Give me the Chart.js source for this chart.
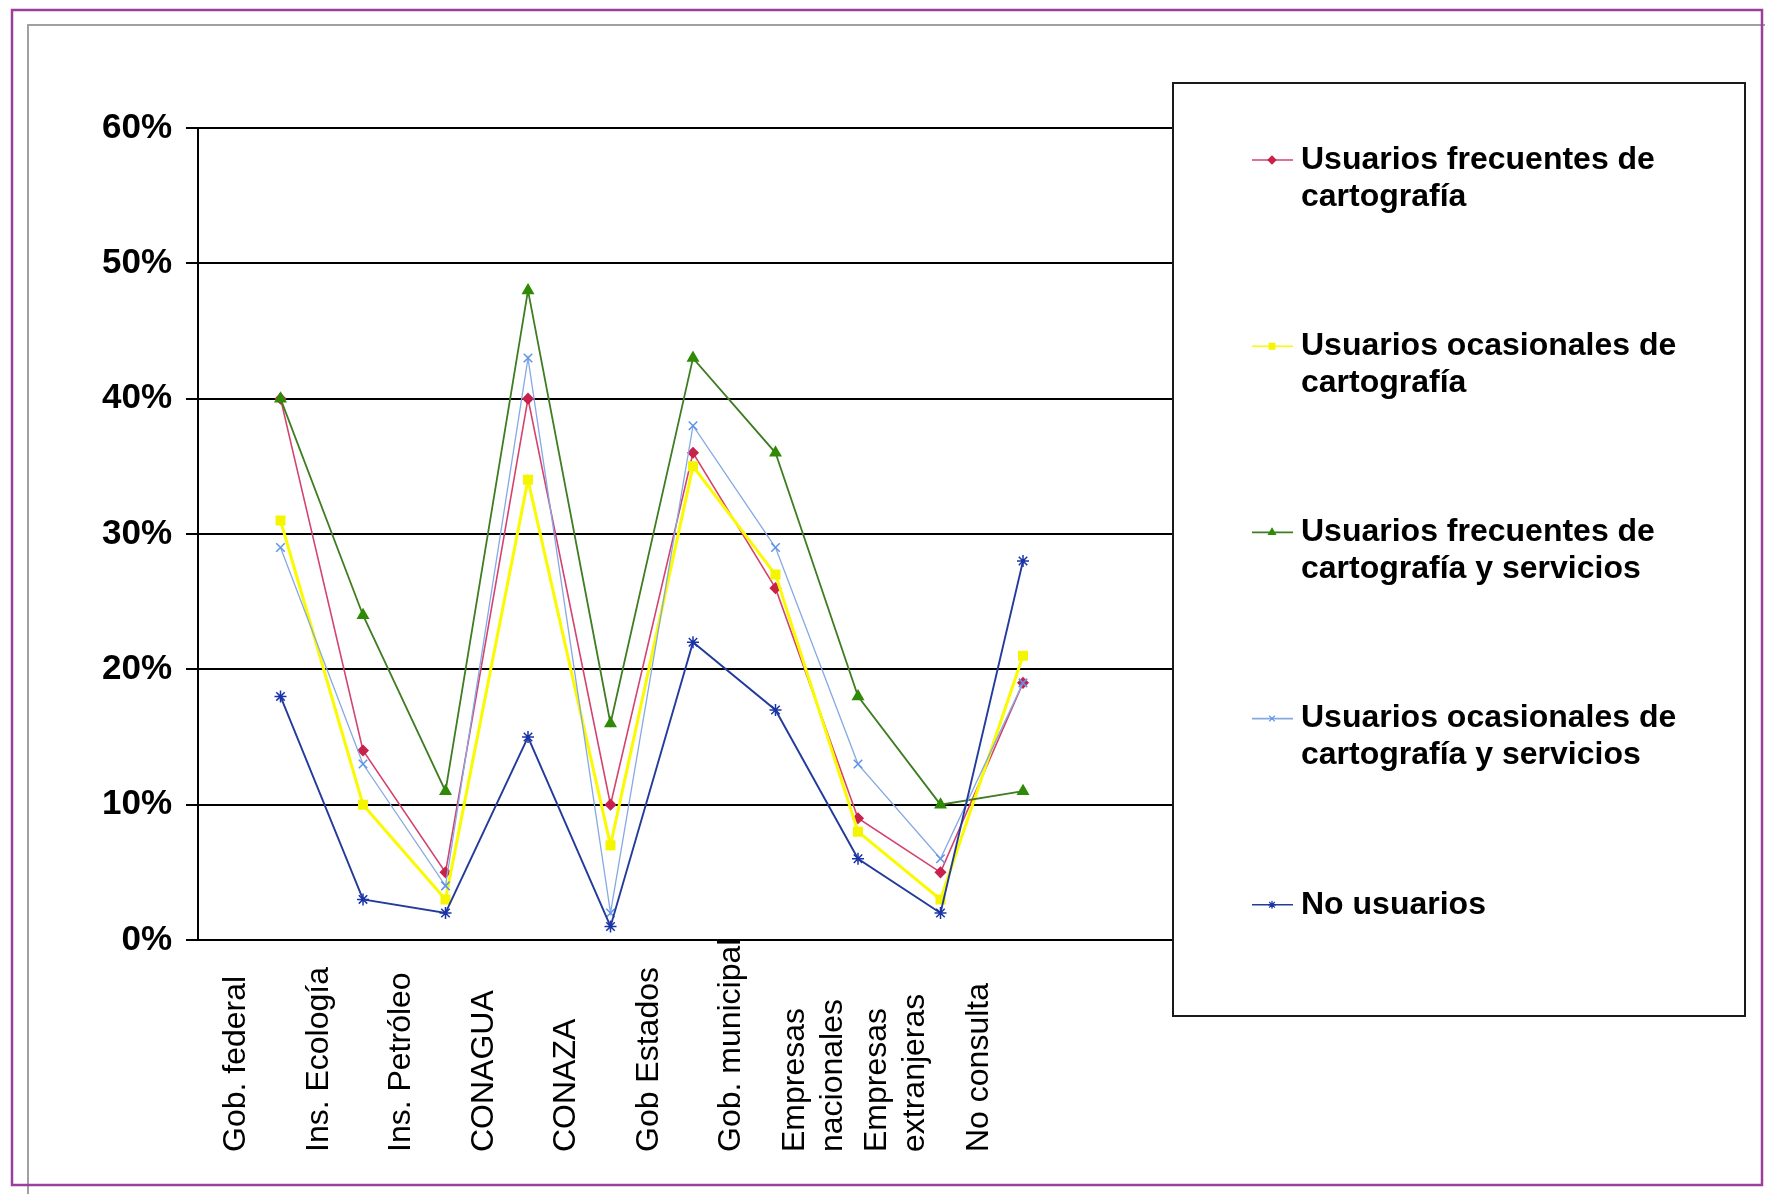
<!DOCTYPE html>
<html>
<head>
<meta charset="utf-8">
<script src="https://cdn.jsdelivr.net/npm/chart.js@4.4.1/dist/chart.umd.min.js"></script>
<style>
  html, body { margin: 0; padding: 0; background: #ffffff; }
  #wrap { position: relative; width: 1765px; height: 1194px; }
</style>
</head>
<body>
<div id="wrap"><canvas id="chart"></canvas></div>
<script>
// Institutions consulted, one entry per point on the x axis (arrays = wrapped lines)
const categories = [
  'Gob. federal', 'Ins. Ecología', 'Ins. Petróleo', 'CONAGUA', 'CONAZA',
  'Gob Estados', 'Gob. municipal', ['Empresas', 'nacionales'],
  ['Empresas', 'extranjeras'], 'No consulta'
];

// Percentage of each user group that consults each institution
const frecuentesCartografia = [40, 14, 5, 40, 10, 36, 26, 9, 5, 19];
const ocasionalesCartografia = [31, 10, 3, 34, 7, 35, 27, 8, 3, 21];
const frecuentesCartografiaServicios = [40, 24, 11, 48, 16, 43, 36, 18, 10, 11];
const ocasionalesCartografiaServicios = [29, 13, 4, 43, 2, 38, 29, 13, 6, 19];
const noUsuarios = [18, 3, 2, 15, 1, 22, 17, 6, 2, 28];

// Y axis tick values (percent)
const yTicks = [0, 10, 20, 30, 40, 50, 60];

// Legend captions, wrapped as in the legend box
const seriesNames = [
  ['Usuarios frecuentes de', 'cartografía'],
  ['Usuarios ocasionales de', 'cartografía'],
  ['Usuarios frecuentes de', 'cartografía y servicios'],
  ['Usuarios ocasionales de', 'cartografía y servicios'],
  ['No usuarios']
];

const FONT = '"Liberation Sans", Arial, Helvetica, sans-serif';

// The category axis has one empty slot before the first institution and two after the last
const axisLabels = [''].concat(categories.map(c => Array.isArray(c) ? c.join(' ') : c), ['', '']);
const pad = values => [null].concat(values);

function series(idx, values, line, point, style, lineWidth, radius, order) {
  return {
    label: seriesNames[idx].join(' '),
    data: pad(values),
    borderColor: line,
    backgroundColor: point,
    pointBackgroundColor: point,
    pointBorderColor: point,
    borderWidth: lineWidth,
    pointStyle: style,
    pointRadius: radius,
    pointBorderWidth: 1.5,
    tension: 0,
    order: order
  };
}

const datasets = [
  series(0, frecuentesCartografia, '#d4436f', '#c8224c', 'rectRot', 1.6, 5, 5),
  series(1, ocasionalesCartografia, '#fafa00', '#f5f500', 'rect', 3, 6, 4),
  series(2, frecuentesCartografiaServicios, '#3f7d22', '#2f8a06', 'triangle', 1.8, 6, 3),
  series(3, ocasionalesCartografiaServicios, '#86a9e4', '#5f95e6', 'crossRot', 1.3, 6, 2),
  series(4, noUsuarios, '#233c9c', '#1a34a8', 'star', 1.9, 6, 1)
];

// Page frame: grey inner rule and purple outer border
const frame = {
  id: 'frame',
  beforeDraw(chart) {
    const ctx = chart.ctx;
    ctx.save();
    ctx.fillStyle = '#ffffff';
    ctx.fillRect(0, 0, chart.width, chart.height);
    ctx.strokeStyle = '#a0a0a0';
    ctx.lineWidth = 2;
    ctx.beginPath();
    ctx.moveTo(28, chart.height);
    ctx.lineTo(28, 25);
    ctx.lineTo(chart.width, 25);
    ctx.stroke();
    ctx.restore();
  },
  afterDraw(chart) {
    const ctx = chart.ctx;
    ctx.save();
    ctx.strokeStyle = '#9c3f9c';
    ctx.lineWidth = 2.5;
    ctx.strokeRect(12, 10, 1750, 1175);
    ctx.restore();
  }
};

// Category names written upward, all starting from the same baseline below the axis
const categoryLabels = {
  id: 'categoryLabels',
  afterDraw(chart) {
    const { ctx, chartArea } = chart;
    const x = chart.scales.x;
    const startY = chartArea.bottom + 212;
    ctx.save();
    ctx.font = '32px ' + FONT;
    ctx.fillStyle = '#000000';
    ctx.textAlign = 'left';
    ctx.textBaseline = 'middle';
    categories.forEach((cat, i) => {
      const lines = Array.isArray(cat) ? cat : [cat];
      const cx = x.getPixelForValue(i + 1) - 44;
      lines.forEach((text, k) => {
        const lx = cx + (k - (lines.length - 1) / 2) * 38;
        ctx.save();
        ctx.translate(lx, startY);
        ctx.rotate(-Math.PI / 2);
        ctx.fillText(text, 0, 0);
        ctx.restore();
      });
    });
    ctx.restore();
  }
};

// Boxed legend on the right, one sample line + marker per series
const boxLegend = {
  id: 'boxLegend',
  afterDraw(chart) {
    const ctx = chart.ctx;
    const L = 1173, T = 83, R = 1745, B = 1016;
    ctx.save();
    ctx.fillStyle = '#ffffff';
    ctx.fillRect(L, T, R - L, B - T);
    ctx.strokeStyle = '#1a1a1a';
    ctx.lineWidth = 2;
    ctx.strokeRect(L, T, R - L, B - T);
    chart.data.datasets.forEach((ds, i) => {
      const y = 160 + i * 186.2;
      ctx.strokeStyle = ds.borderColor;
      ctx.lineWidth = 1.6;
      ctx.beginPath();
      ctx.moveTo(1252, y);
      ctx.lineTo(1293, y);
      ctx.stroke();
      ctx.fillStyle = ds.pointBackgroundColor;
      ctx.strokeStyle = ds.pointBorderColor;
      ctx.lineWidth = 1.2;
      Chart.helpers.drawPoint(ctx, { pointStyle: ds.pointStyle, radius: 4, borderWidth: 1.2, rotation: 0 }, 1272, y);
      ctx.fillStyle = '#000000';
      ctx.font = 'bold 32px ' + FONT;
      ctx.textAlign = 'left';
      ctx.textBaseline = 'middle';
      seriesNames[i].forEach((line, k) => ctx.fillText(line, 1301, y + k * 37));
    });
    ctx.restore();
  }
};

new Chart(document.getElementById('chart'), {
  type: 'line',
  data: { labels: axisLabels, datasets: datasets },
  options: {
    responsive: true,
    maintainAspectRatio: false,
    devicePixelRatio: 1,
    animation: false,
    layout: { padding: { left: 0, top: 128, right: 577, bottom: 254 } },
    plugins: {
      legend: { display: false },
      tooltip: { enabled: false }
    },
    scales: {
      x: {
        type: 'category',
        offset: false,
        ticks: { display: false },
        grid: { display: false, drawTicks: false },
        border: { display: true, color: '#000000', width: 2 },
        afterFit: s => { s.height = 0; }
      },
      y: {
        min: 0,
        max: 60,
        afterBuildTicks: s => { s.ticks = yTicks.map(v => ({ value: v })); },
        ticks: {
          callback: v => v + '%',
          color: '#000000',
          padding: 14,
          font: { family: FONT, size: 35, weight: 'bold' }
        },
        grid: { color: '#000000', lineWidth: 2, tickLength: 12, drawTicks: true },
        border: { color: '#000000', width: 2 },
        afterFit: s => { s.width = 198; }
      }
    }
  },
  plugins: [frame, categoryLabels, boxLegend]
});
</script>
</body>
</html>
